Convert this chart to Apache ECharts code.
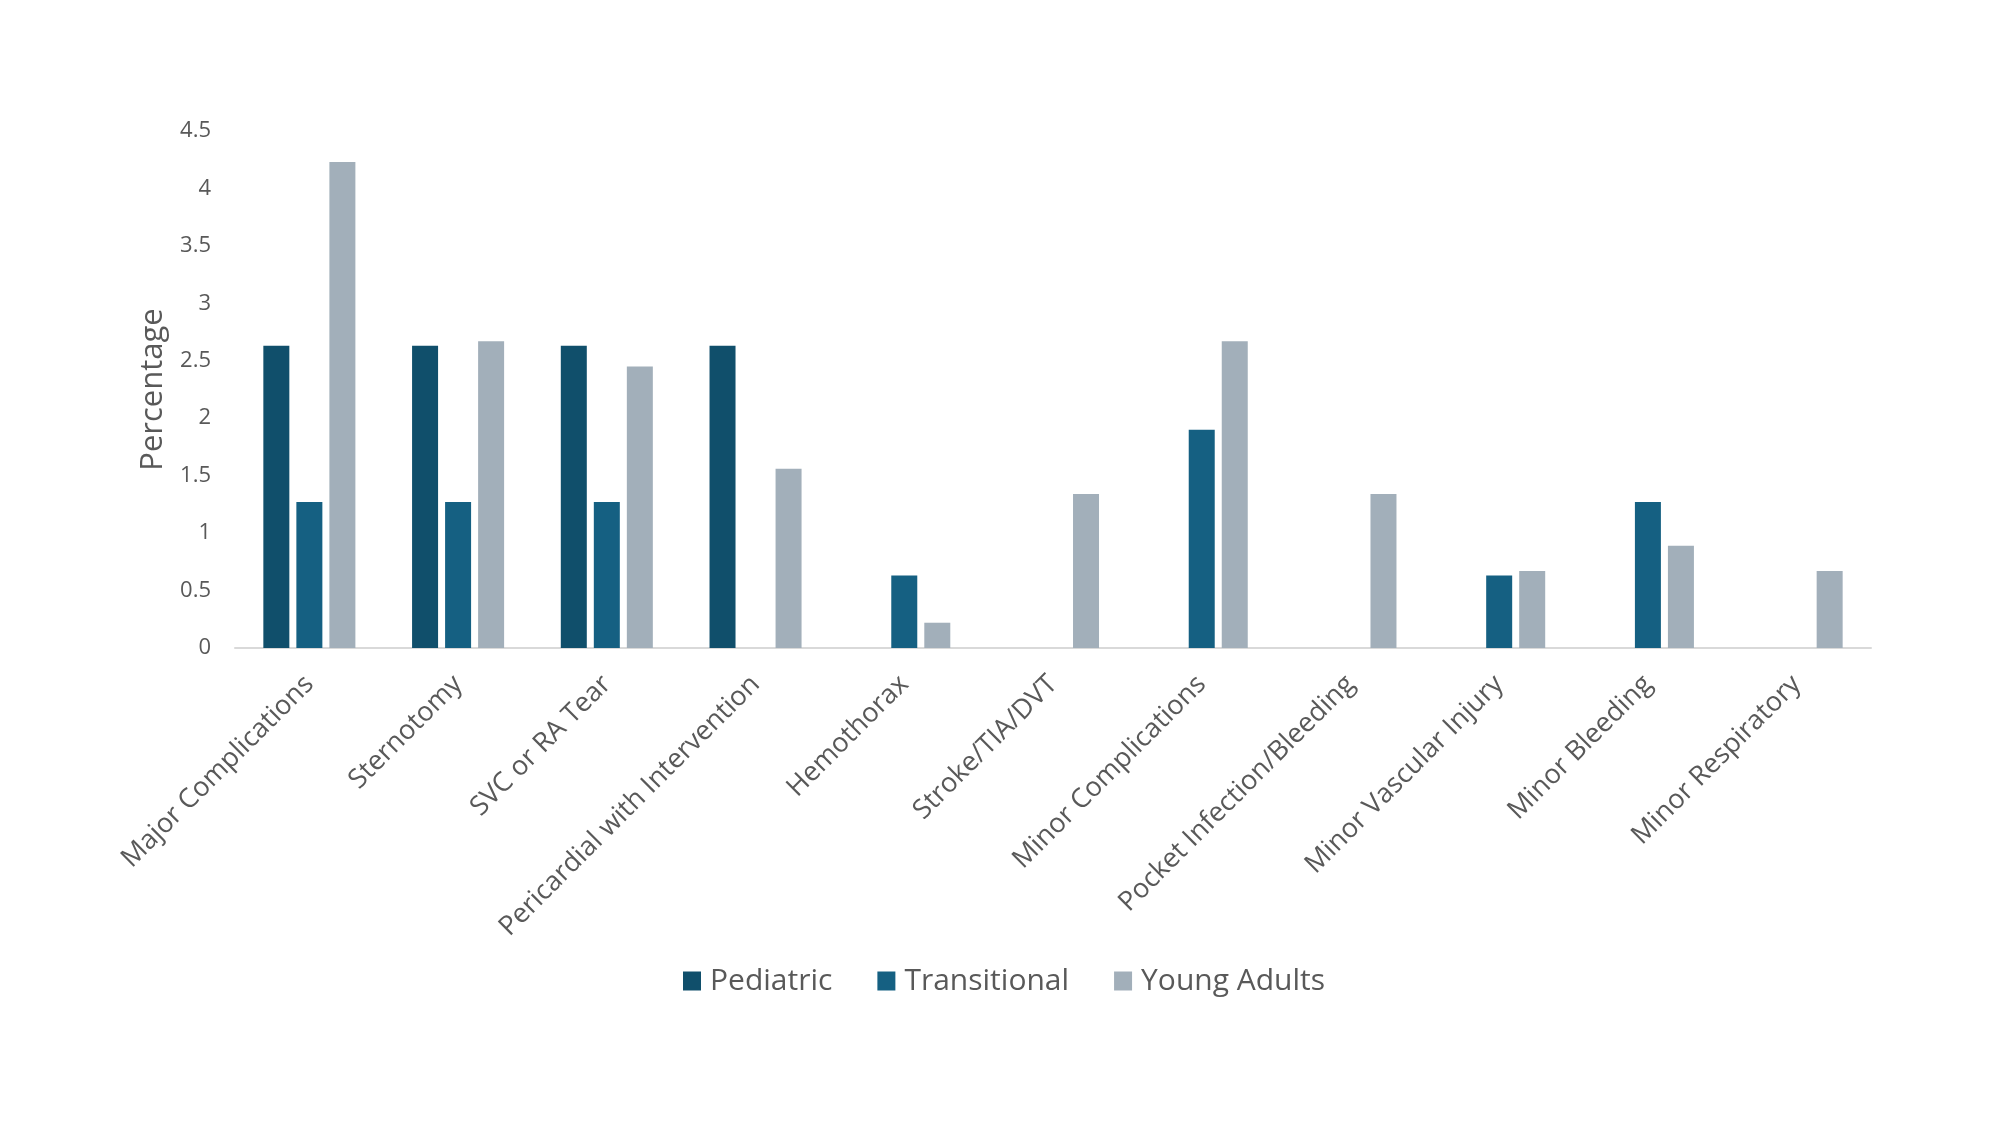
<!DOCTYPE html>
<html>
<head>
<meta charset="utf-8">
<script src="https://cdn.jsdelivr.net/npm/echarts@6/dist/echarts.min.js"></script>
<style>
html,body{margin:0;padding:0;background:#ffffff;}
#chart{width:2000px;height:1125px;}
</style>
</head>
<body>
<div id="chart"></div>
<script>
const categories = [
  "Major Complications",
  "Sternotomy",
  "SVC or RA Tear",
  "Pericardial with Intervention",
  "Hemothorax",
  "Stroke/TIA/DVT",
  "Minor Complications",
  "Pocket Infection/Bleeding",
  "Minor Vascular Injury",
  "Minor Bleeding",
  "Minor Respiratory"
];
const pediatric    = [2.63, 2.63, 2.63, 2.63, null, null, null, null, null, null, null];
const transitional = [1.27, 1.27, 1.27, null, 0.63, null, 1.90, null, 0.63, 1.27, null];
const youngAdults  = [4.23, 2.67, 2.45, 1.56, 0.22, 1.34, 2.67, 1.34, 0.67, 0.89, 0.67];
const seriesNames = ["Pediatric", "Transitional", "Young Adults"];
const yTicks = { min: 0, max: 4.5, interval: 0.5 };

const FONT = "'Open Sans', 'Liberation Sans', sans-serif";
const TXT = "#595959";
const colors = ["#104F6B", "#156082", "#A2AFBA"];

const chart = echarts.init(document.getElementById('chart'), null, {renderer: 'canvas'});
const mkSeries = (name, data, color) => ({
  name: name,
  type: 'bar',
  data: data,
  barWidth: 26,
  barGap: '27%',
  itemStyle: { color: color },
  emphasis: { disabled: true }
});
chart.setOption({
  animation: false,
  backgroundColor: '#ffffff',
  textStyle: { fontFamily: FONT, color: TXT },
  grid: { left: 235, right: 129, top: 131, bottom: 477, containLabel: false },
  legend: {
    data: seriesNames,
    left: 683,
    top: 966,
    padding: 0,
    itemWidth: 18,
    itemHeight: 19,
    itemGap: 45,
    textStyle: { fontFamily: FONT, fontSize: 30, color: TXT, padding: [0,0,0,4] },
    icon: 'rect'
  },
  xAxis: {
    type: 'category',
    data: categories,
    axisLine: { show: true, lineStyle: { color: '#D9D9D9', width: 2 } },
    axisTick: { show: false },
    splitLine: { show: false },
    axisLabel: {
      interval: 0,
      rotate: 45,
      margin: 32,
      fontFamily: FONT,
      fontSize: 27,
      color: TXT
    }
  },
  yAxis: {
    type: 'value',
    min: yTicks.min,
    max: yTicks.max,
    interval: yTicks.interval,
    name: 'Percentage',
    nameLocation: 'middle',
    nameGap: 62,
    nameTextStyle: { fontFamily: FONT, fontSize: 31, color: TXT },
    axisLine: { show: false },
    axisTick: { show: false },
    splitLine: { show: false },
    axisLabel: { margin: 24, fontFamily: FONT, fontSize: 22, color: TXT }
  },
  series: [
    mkSeries(seriesNames[0], pediatric, colors[0]),
    mkSeries(seriesNames[1], transitional, colors[1]),
    mkSeries(seriesNames[2], youngAdults, colors[2])
  ]
});
</script>
</body>
</html>
